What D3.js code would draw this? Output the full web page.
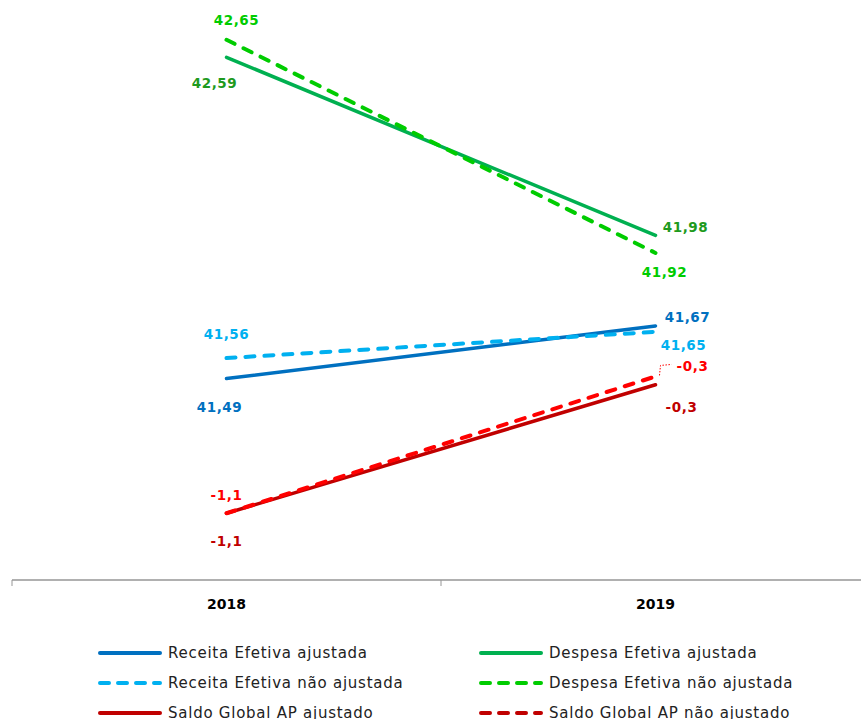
<!DOCTYPE html>
<html>
<head>
<meta charset="utf-8">
<script src="https://cdn.jsdelivr.net/npm/d3@7"></script>
<style>
  html, body { margin: 0; padding: 0; background: #fff; }
  svg { display: block; }
  .lbl { font-family: "DejaVu Sans", sans-serif; font-weight: bold; font-size: 13.5px; letter-spacing: 0.6px; }
  .tick-lbl { font-family: "DejaVu Sans", sans-serif; font-weight: bold; font-size: 14px; fill: #000; }
  .leg { font-family: "DejaVu Sans", sans-serif; font-size: 15px; letter-spacing: 0.75px; fill: #222; }
</style>
</head>
<body>
<svg id="chart" width="861" height="719"></svg>
<script>
// Years on the category axis
const years = ["2018", "2019"];

// Revenue / expenditure, % of GDP (left scale)
const receitaAjustada = [41.49, 41.67];
const receitaNaoAjustada = [41.56, 41.65];
const despesaAjustada = [42.59, 41.98];
const despesaNaoAjustada = [42.65, 41.92];

// Overall balance, % of GDP (right scale)
const saldoAjustado = [-1.1, -0.33];
const saldoNaoAjustado = [-1.1, -0.28];

// Series names for the legend
const seriesNames = [
  "Receita Efetiva ajustada",
  "Despesa Efetiva ajustada",
  "Receita Efetiva não ajustada",
  "Despesa Efetiva não ajustada",
  "Saldo Global AP ajustado",
  "Saldo Global AP não ajustado"
];

const svg = d3.select("#chart");

const plotTop = -4, plotBottom = 580;
const x = d3.scaleBand().domain(years).range([12, 870]);
const yLeft = d3.scaleLinear().domain([40.8, 42.8]).range([plotBottom, plotTop]);
const yRight = d3.scaleLinear().domain([-1.5, 2.0]).range([plotBottom, plotTop]);
const cx = d => x(d) + x.bandwidth() / 2;

const fmt1 = v => d3.format(".1f")(v).replace(".", ",").replace("−", "-");
const fmt2 = v => d3.format(".2f")(v).replace(".", ",").replace("−", "-");

// Styling and label placement for each series
const series = [
  { name: seriesNames[0], values: receitaAjustada, y: yLeft, color: "#0070C0", label: "#0070C0", dashed: false, fmt: fmt2,
    off: [[-7, 29], [32, -9]] },
  { name: seriesNames[1], values: despesaAjustada, y: yLeft, color: "#00B050", label: "#1E9A1E", dashed: false, fmt: fmt2,
    off: [[-12, 26], [30, -8]] },
  { name: seriesNames[2], values: receitaNaoAjustada, y: yLeft, color: "#00B0F0", label: "#00B0F0", dashed: true, fmt: fmt2,
    off: [[0, -24], [28, 13]] },
  { name: seriesNames[3], values: despesaNaoAjustada, y: yLeft, color: "#00CC00", label: "#00CC00", dashed: true, fmt: fmt2,
    off: [[10, -20], [9, 19]] },
  { name: seriesNames[4], values: saldoAjustado, y: yRight, color: "#C00000", label: "#C00000", dashed: false, fmt: fmt1,
    off: [[0, 28], [26, 22]] },
  { name: seriesNames[5], values: saldoNaoAjustado, y: yRight, color: "#FF0000", legendColor: "#C00000", label: "#FF0000", dashed: true, fmt: fmt1,
    off: [[0, -18], [37, -10]], leader: 1 }
];

// Category axis: line with ticks at the band boundaries
const axisG = svg.append("g");
axisG.append("line")
  .attr("x1", x.range()[0]).attr("x2", x.range()[1])
  .attr("y1", plotBottom).attr("y2", plotBottom)
  .attr("stroke", "#969696").attr("stroke-width", 1.5);
axisG.selectAll(".bt").data(years.concat(["end"])).join("line")
  .attr("x1", (d, i) => x.range()[0] + i * x.step())
  .attr("x2", (d, i) => x.range()[0] + i * x.step())
  .attr("y1", plotBottom).attr("y2", plotBottom + 6)
  .attr("stroke", "#969696").attr("stroke-width", 1);
axisG.selectAll(".tick-lbl").data(years).join("text")
  .attr("class", "tick-lbl")
  .attr("x", d => cx(d)).attr("y", 609)
  .attr("text-anchor", "middle")
  .text(d => d);

// Lines
const line = s => d3.line().x((v, i) => cx(years[i])).y(v => s.y(v));
const drawOrder = [4, 5, 0, 2, 1, 3];
drawOrder.forEach(k => {
  const s = series[k];
  svg.append("path")
    .datum(s.values)
    .attr("d", line(s))
    .attr("fill", "none")
    .attr("stroke", s.color)
    .attr("stroke-width", s.dashed ? 4 : 3.5)
    .attr("stroke-linecap", "round")
    .attr("stroke-dasharray", s.dashed ? "9,10" : null);
});

// Value labels
series.forEach(s => {
  s.values.forEach((v, i) => {
    const px = cx(years[i]), py = s.y(v);
    const [dx, dy] = s.off[i];
    svg.append("text")
      .attr("class", "lbl")
      .attr("x", px + dx).attr("y", py + dy)
      .attr("dy", "0.35em")
      .attr("text-anchor", "middle")
      .attr("fill", s.label)
      .text(s.fmt(v));
    if (s.leader === i) {
      svg.append("path")
        .attr("d", `M${px + 4},${py - 1} L${px + 5},${py - 11} L${px + 16},${py - 12}`)
        .attr("fill", "none")
        .attr("stroke", s.label)
        .attr("stroke-width", 1)
        .attr("stroke-dasharray", "1.5,1.5");
    }
  });
});

// Legend, two columns
const legend = svg.append("g");
series.forEach((s, i) => {
  const col = i % 2, row = Math.floor(i / 2);
  const lx = col === 0 ? 100 : 481;
  const ly = 653 + row * 30;
  legend.append("line")
    .attr("x1", lx).attr("x2", lx + 60)
    .attr("y1", ly).attr("y2", ly)
    .attr("stroke", s.legendColor || s.color)
    .attr("stroke-width", 4)
    .attr("stroke-linecap", "round")
    .attr("stroke-dasharray", s.dashed ? "9,9" : null);
  legend.append("text")
    .attr("class", "leg")
    .attr("x", lx + 68).attr("y", ly)
    .attr("dy", "0.35em")
    .text(s.name);
});
</script>
</body>
</html>
